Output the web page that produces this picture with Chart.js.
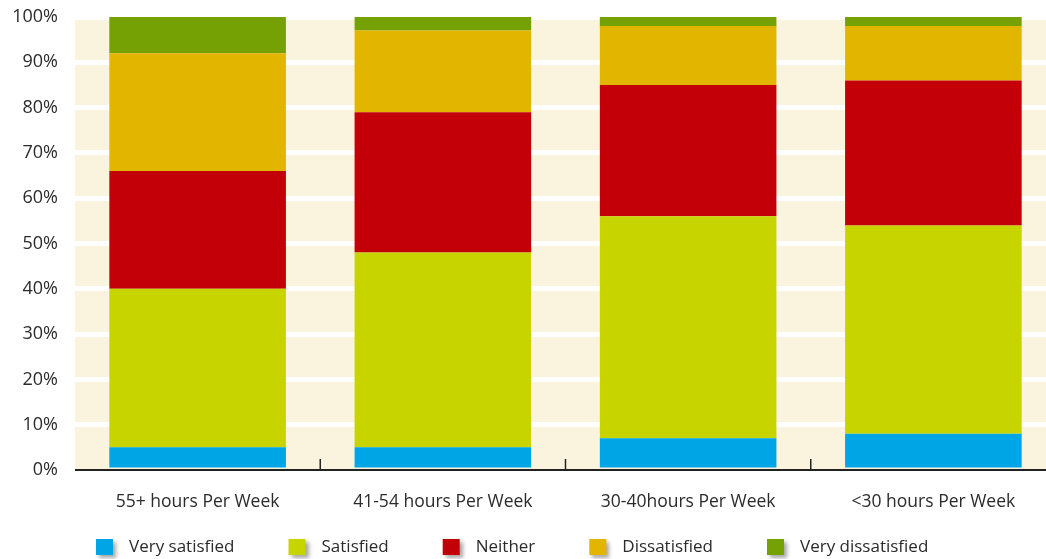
<!DOCTYPE html>
<html>
<head>
<meta charset="utf-8">
<script src="https://cdn.jsdelivr.net/npm/chart.js@4"></script>
<style>
  html, body { margin: 0; padding: 0; background: #fff; overflow: hidden; }
  #wrap { width: 1056px; height: 559px; position: relative; }
</style>
</head>
<body>
<div id="wrap"><canvas id="chart"></canvas></div>
<script>
const categories = ['55+ hours Per Week', '41-54 hours Per Week', '30-40hours Per Week', '<30 hours Per Week'];
const verySatisfied = [5, 5, 7, 8];
const satisfied = [35, 43, 49, 46];
const neither = [26, 31, 29, 32];
const dissatisfied = [26, 18, 13, 12];
const veryDissatisfied = [8, 3, 2, 2];
const seriesNames = ['Very satisfied', 'Satisfied', 'Neither', 'Dissatisfied', 'Very dissatisfied'];
const seriesColors = ['#00a5e6', '#c8d400', '#c30008', '#e2b500', '#76a105'];

const FONT = 'Open Sans';
const TEXT = '#2b2b2b';

// cream plot background
const plotBg = {
    id: 'plotBg',
    beforeDraw(chart) {
        const { ctx, chartArea: a } = chart;
        ctx.save();
        ctx.fillStyle = '#faf3dd';
        ctx.fillRect(a.left, a.top, a.right - a.left, a.bottom - a.top);
        ctx.restore();
    }
};

// small upward ticks between categories + axis line
const catTicks = {
    id: 'catTicks',
    afterDatasetsDraw(chart) {
        const { ctx, chartArea: a } = chart;
        const x = chart.scales.x;
        ctx.save();
        ctx.strokeStyle = '#222';
        ctx.lineWidth = 1.5;
        for (let i = 0; i < categories.length - 1; i++) {
            const px = (x.getPixelForValue(i) + x.getPixelForValue(i + 1)) / 2;
            ctx.beginPath();
            ctx.moveTo(px, a.bottom);
            ctx.lineTo(px, a.bottom - 11);
            ctx.stroke();
        }
        ctx.beginPath();
        ctx.lineWidth = 2;
        ctx.moveTo(a.left, a.bottom);
        ctx.lineTo(a.right, a.bottom);
        ctx.stroke();
        ctx.restore();
    }
};

// legend row at the bottom, boxes with a soft shadow
const bottomLegend = {
    id: 'bottomLegend',
    afterDraw(chart) {
        const { ctx } = chart;
        const y = 547;
        let x = 96;
        ctx.save();
        ctx.font = '17px "' + FONT + '"';
        ctx.textBaseline = 'middle';
        chart.data.datasets.forEach((ds) => {
            ctx.save();
            ctx.shadowColor = 'rgba(0,0,0,0.35)';
            ctx.shadowBlur = 4;
            ctx.shadowOffsetX = 3;
            ctx.shadowOffsetY = 3;
            ctx.fillStyle = ds.backgroundColor;
            ctx.fillRect(x, y - 8, 17, 16);
            ctx.restore();
            ctx.fillStyle = TEXT;
            ctx.fillText(ds.label, x + 33, y);
            x += 33 + ctx.measureText(ds.label).width + 54;
        });
        ctx.restore();
    }
};

const values = [verySatisfied, satisfied, neither, dissatisfied, veryDissatisfied];

new Chart(document.getElementById('chart'), {
    type: 'bar',
    data: {
        labels: categories,
        datasets: values.map((d, i) => ({
            label: seriesNames[i],
            data: d,
            backgroundColor: seriesColors[i],
            borderWidth: 0,
            categoryPercentage: 1,
            barPercentage: 0.72,
        })),
    },
    options: {
        responsive: true,
        maintainAspectRatio: false,
        animation: false,
        layout: { padding: { top: 17, left: 0, right: 0, bottom: 24 } },
        scales: {
            x: {
                stacked: true,
                grid: { display: false, drawTicks: false },
                border: { display: false },
                ticks: {
                    color: TEXT,
                    padding: 22,
                    font: { family: FONT, size: 17.5 },
                },
            },
            y: {
                stacked: true,
                min: 0,
                max: 100,
                afterFit(scale) {
                    scale.width = 75;
                    scale.paddingTop = 0;
                },
                grid: {
                    drawTicks: false,
                    lineWidth: 5,
                    color: (c) => c.tick && c.tick.value === 0 ? 'rgba(0,0,0,0)' : '#ffffff',
                },
                border: { display: false },
                ticks: {
                    stepSize: 10,
                    padding: 17,
                    color: TEXT,
                    font: { family: FONT, size: 18 },
                    callback: (v) => v + '%',
                },
            },
        },
        plugins: {
            legend: { display: false },
            tooltip: { enabled: false },
        },
    },
    plugins: [plotBg, catTicks, bottomLegend],
});
</script>
</body>
</html>
